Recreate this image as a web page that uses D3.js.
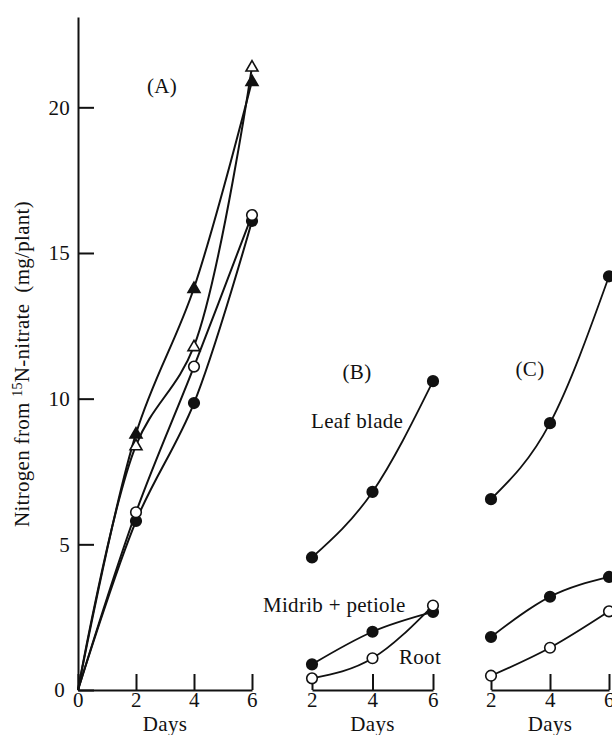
<!DOCTYPE html>
<html>
<head>
<meta charset="utf-8">
<script src="https://cdn.jsdelivr.net/npm/d3@7"></script>
<style>
  html, body { margin: 0; padding: 0; background: #fff; }
  svg { display: block; font-family: "Liberation Serif", "DejaVu Serif", serif; letter-spacing: 0.3px; }
</style>
</head>
<body>
<div id="chart"></div>
<script>
// ------- Data (mg N per plant)
const daysA = [0, 2, 4, 6];
const aFilledTri = [0, 8.8, 13.8, 20.9];
const aOpenTri = [0, 8.4, 11.8, 21.4];
const aOpenCirc = [0, 6.1, 11.1, 16.3];
const aFilledCirc = [0, 5.8, 9.85, 16.1];

const daysBC = [2, 4, 6];
const bLeaf = [4.55, 6.8, 10.6];
const bMidrib = [0.88, 2.0, 2.68];
const bRoot = [0.4, 1.09, 2.9];
const cLeaf = [6.55, 9.16, 14.2];
const cMidrib = [1.82, 3.2, 3.88];
const cRoot = [0.49, 1.45, 2.7];

const yTicks = [0, 5, 10, 15, 20];
const xTicksA = [0, 2, 4, 6];
const xTicksBC = [2, 4, 6];

(function () {
    const width = 612, height = 735;
    const FONT = 21;

    const svg = d3.select('#chart').append('svg')
        .attr('width', width)
        .attr('height', height);

    // ------- Shared y scale (B and C sit on the same baseline as A)
    const y = d3.scaleLinear().domain([0, 23.1]).range([690, 17]);

    const xA = d3.scaleLinear().domain([0, 6]).range([78, 252]);
    const xB = d3.scaleLinear().domain([2, 6]).range([312, 433]);
    const xC = d3.scaleLinear().domain([2, 6]).range([491, 609]);

    const styleAxis = g => {
        g.selectAll('.domain').attr('stroke', '#111').attr('stroke-width', 2);
        g.selectAll('.tick line').attr('stroke', '#111').attr('stroke-width', 2);
        g.selectAll('.tick text')
            .attr('fill', '#111')
            .style('font-size', FONT + 'px')
            .style('font-family', '"Liberation Serif", serif');
    };

    // ------- Axes
    svg.append('g')
        .attr('transform', `translate(${xA.range()[0]},0)`)
        .call(d3.axisLeft(y).tickValues(yTicks).tickFormat(d3.format('d'))
            .tickSizeInner(-16).tickSizeOuter(0).tickPadding(8))
        .call(styleAxis)
        .call(g => g.selectAll('.tick text').filter(d => d === 0).attr('x', -13));

    function bottomAxis(x, ticks) {
        svg.append('g')
            .attr('transform', `translate(0,${y(0)})`)
            .call(d3.axisBottom(x).tickValues(ticks).tickFormat(d3.format('d'))
                .tickSizeInner(-16).tickSizeOuter(0).tickPadding(2))
            .call(styleAxis)
            .call(g => g.selectAll('.tick text').attr('y', 2).attr('dy', '0.71em'));
        svg.append('text')
            .attr('x', x(x.domain()[0] + (x.domain()[1] - x.domain()[0]) / 2))
            .attr('y', 731)
            .attr('text-anchor', 'middle')
            .attr('font-size', FONT)
            .attr('fill', '#111')
            .text('Days');
    }
    bottomAxis(xA, xTicksA);
    bottomAxis(xB, xTicksBC);
    bottomAxis(xC, xTicksBC);

    // y axis title with superscript 15
    const yt = svg.append('text')
        .attr('transform', 'translate(29,364) rotate(-90)')
        .attr('text-anchor', 'middle')
        .attr('font-size', FONT)
        .attr('fill', '#111');
    yt.append('tspan').text('Nitrogen from ');
    yt.append('tspan').attr('font-size', 14).attr('dy', -7).text('15');
    yt.append('tspan').attr('dy', 7).text('N-nitrate\u00a0\u00a0(mg/plant)');

    // ------- Series drawing
    const tri = d3.symbol().type(d3.symbolTriangle).size(62);

    function series(x, days, vals, marker, filled, curve, lw) {
        const pts = days.map((d, i) => [x(d), y(vals[i])]);
        svg.append('path')
            .attr('d', d3.line().curve(curve)(pts))
            .attr('fill', 'none')
            .attr('stroke', '#111')
            .attr('stroke-width', lw);
        const marks = pts.filter((p, i) => days[i] !== 0);
        if (marker === 'circle') {
            svg.append('g').selectAll('circle')
                .data(marks)
                .join('circle')
                .attr('cx', d => d[0]).attr('cy', d => d[1])
                .attr('r', 5.3)
                .attr('fill', filled ? '#111' : '#fff')
                .attr('stroke', '#111')
                .attr('stroke-width', 1.6);
        } else {
            svg.append('g').selectAll('path')
                .data(marks)
                .join('path')
                .attr('d', tri)
                .attr('transform', d => `translate(${d[0]},${d[1] + 1})`)
                .attr('fill', filled ? '#111' : '#fff')
                .attr('stroke', '#111')
                .attr('stroke-width', 1.6);
        }
    }

    const curveA = d3.curveCatmullRom.alpha(0.5);
    const curve = d3.curveMonotoneX;

    // Panel A
    series(xA, daysA, aFilledCirc, 'circle', true, curveA, 2);
    series(xA, daysA, aOpenCirc, 'circle', false, curveA, 2);
    series(xA, daysA, aFilledTri, 'tri', true, curveA, 2);
    series(xA, daysA, aOpenTri, 'tri', false, curveA, 2);

    // Panel B
    series(xB, daysBC, bLeaf, 'circle', true, curve, 1.8);
    series(xB, daysBC, bMidrib, 'circle', true, curve, 1.8);
    series(xB, daysBC, bRoot, 'circle', false, curve, 1.8);

    // Panel C
    series(xC, daysBC, cLeaf, 'circle', true, curve, 1.8);
    series(xC, daysBC, cMidrib, 'circle', true, curve, 1.8);
    series(xC, daysBC, cRoot, 'circle', false, curve, 1.8);

    // ------- Panel / series labels
    const label = (txt, x0, y0, anchor) => svg.append('text')
        .attr('x', x0).attr('y', y0)
        .attr('text-anchor', anchor || 'middle')
        .attr('font-size', FONT)
        .attr('fill', '#111')
        .text(txt);

    label('(A)', 162, 93);
    label('(B)', 357, 379);
    label('(C)', 530, 376);
    label('Leaf blade', 311, 428, 'start');
    label('Midrib + petiole', 263, 612, 'start');
    label('Root', 399, 664, 'start');
})();
</script>
</body>
</html>
